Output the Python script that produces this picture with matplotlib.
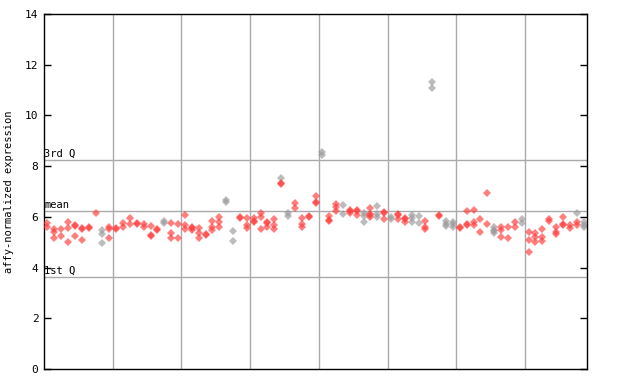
import matplotlib.pyplot as plt

# sample columns along the x axis, one per chip
n_samples = 79

# expression values per sample column (red = this gene, grey = other group)
red_points = {
    0: [5.75, 5.6], 1: [5.51, 5.41, 5.15], 2: [5.53, 5.23], 3: [5.78, 5.57, 5.02],
    4: [5.67, 5.63, 5.23], 5: [5.57, 5.53, 5.09], 6: [5.59, 5.55], 7: [6.17],
    9: [5.59, 5.51, 5.15], 10: [5.55, 5.51], 11: [5.77, 5.61], 12: [5.97, 5.7],
    13: [5.75, 5.7], 14: [5.7, 5.59], 15: [5.65, 5.28, 5.24], 16: [5.51, 5.47],
    18: [5.74, 5.35, 5.15], 19: [5.7, 5.15], 20: [6.07, 5.68, 5.51],
    21: [5.61, 5.57, 5.48], 22: [5.55, 5.37, 5.15], 23: [5.34, 5.3],
    24: [5.85, 5.59, 5.48], 25: [6.0, 5.81, 5.59], 28: [5.99, 5.95],
    29: [5.94, 5.68, 5.55], 30: [5.94, 5.83, 5.79], 31: [6.14, 6.0, 5.51],
    32: [5.79, 5.75, 5.59], 33: [5.9, 5.68, 5.51], 34: [7.32, 7.28],
    36: [6.53, 6.34], 37: [5.94, 5.72, 5.61], 38: [6.02, 5.98],
    39: [6.82, 6.58, 6.54], 41: [6.03, 5.87, 5.83], 42: [6.5, 6.4, 6.24],
    44: [6.29, 6.25, 6.16], 45: [6.26, 6.22, 6.07], 47: [6.34, 6.12, 6.08, 6.0],
    49: [6.18, 6.14, 5.9], 51: [6.13, 6.09, 5.9], 52: [5.96, 5.92, 5.81],
    55: [5.85, 5.59, 5.51], 57: [6.09, 6.05], 60: [5.59, 5.55],
    61: [6.23, 5.7, 5.66], 62: [6.27, 5.81, 5.68], 63: [5.92, 5.39],
    64: [6.93, 5.7], 66: [5.61, 5.48, 5.19], 67: [5.61, 5.15], 68: [5.78, 5.61],
    70: [5.41, 5.09, 4.63], 71: [5.35, 5.22, 5.02], 72: [5.52, 5.22, 5.05],
    73: [5.92, 5.84], 74: [5.61, 5.39, 5.31], 75: [5.98, 5.7, 5.66],
    76: [5.67, 5.55], 77: [5.81, 5.68],
}
gray_points = {
    8: [5.48, 5.31, 4.96], 17: [5.84, 5.74], 26: [6.68, 6.6], 27: [5.45, 5.05],
    34: [7.52], 35: [6.16, 6.03], 40: [8.55, 8.42], 43: [6.47, 6.11],
    46: [6.16, 6.03, 5.81], 48: [6.43, 6.11, 6.0], 50: [6.0, 5.9],
    53: [6.07, 5.94, 5.81], 54: [6.03, 5.77], 56: [11.3, 11.1],
    58: [5.85, 5.72, 5.64], 59: [5.81, 5.72, 5.61], 65: [5.61, 5.5, 5.46, 5.35],
    69: [5.92, 5.74], 77: [6.17], 78: [5.81, 5.68, 5.61],
}

third_q = 8.23
mean_val = 6.22
first_q = 3.62
y_ticks = [0, 2, 4, 6, 8, 10, 12, 14]
group_size = 10

mono = 'DejaVu Sans Mono'

fig = plt.figure(figsize=(6.4, 3.84), dpi=100)
ax = fig.add_axes([44 / 640, 15 / 384, 543 / 640, 355 / 384])

# vertical separators every 10 samples
for gx in range(group_size, n_samples, group_size):
    ax.axvline(gx, color='#aaaaaa', lw=1, zorder=0)

# quartile and mean lines
for val, label in [(third_q, '3rd Q'), (mean_val, 'mean'), (first_q, '1st Q')]:
    ax.axhline(val, color='#aaaaaa', lw=1, zorder=0)
    ax.text(0.05, val + 0.05, label, fontsize=7.5, family=mono,
            ha='left', va='bottom', zorder=1)

for col, vals in gray_points.items():
    ax.plot([col + 0.5] * len(vals), vals, 'D', ms=4.2, color='#999999',
            alpha=0.65, mew=0, zorder=2)
for col, vals in red_points.items():
    ax.plot([col + 0.5] * len(vals), vals, 'D', ms=4.2, color='#ff3b3b',
            alpha=0.65, mew=0, zorder=3)

ax.set_xlim(0, n_samples)
ax.set_ylim(0, 14)
ax.set_yticks(y_ticks)
ax.set_xticks([])
ax.tick_params(axis='y', direction='in', length=5, width=1, labelsize=8,
               right=True, left=True, pad=4)
for lbl in ax.get_yticklabels():
    lbl.set_family(mono)
for sp in ax.spines.values():
    sp.set_color('black')
    sp.set_linewidth(1)

ax.set_ylabel('affy-normalized expression', fontsize=7.5, family=mono, labelpad=8)

plt.savefig('out.png', dpi=100)
